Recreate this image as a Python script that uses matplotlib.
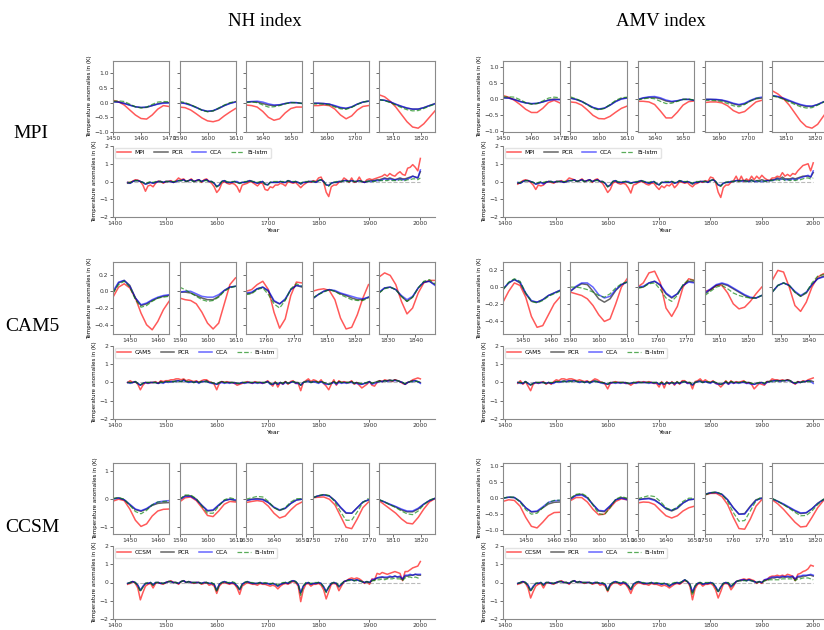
import matplotlib
matplotlib.use("Agg")
import matplotlib.pyplot as plt
from matplotlib.ticker import MultipleLocator
import numpy as np

# ---------------- zoom-window data (every 2 years, 20-year windows) ----------------
NH_MPI_WIN = [1450, 1590, 1634, 1685, 1805]
NH_MPI_MODEL = [[0.08, 0.03, -0.08, -0.25, -0.42, -0.54, -0.56, -0.42, -0.22, -0.1, -0.13],
                [-0.15, -0.17, -0.25, -0.38, -0.52, -0.62, -0.65, -0.6, -0.45, -0.32, -0.2],
                [-0.08, -0.1, -0.15, -0.3, -0.5, -0.6, -0.55, -0.35, -0.2, -0.15, -0.15],
                [-0.1, -0.1, -0.08, -0.1, -0.22, -0.42, -0.55, -0.45, -0.25, -0.13, -0.1],
                [0.27, 0.2, 0.05, -0.15, -0.4, -0.65, -0.83, -0.87, -0.72, -0.5, -0.28]]
NH_MPI_PCR = [[0.03, 0.02, -0.02, -0.08, -0.14, -0.17, -0.16, -0.1, -0.04, 0.0, 0.0],
              [0.0, -0.02, -0.08, -0.16, -0.25, -0.3, -0.28, -0.2, -0.1, -0.02, 0.03],
              [0.02, 0.03, 0.02, -0.03, -0.08, -0.1, -0.08, -0.03, 0.0, 0.0, -0.02],
              [-0.02, -0.02, -0.03, -0.05, -0.12, -0.18, -0.2, -0.15, -0.05, 0.02, 0.05],
              [0.1, 0.08, 0.02, -0.06, -0.13, -0.19, -0.22, -0.22, -0.17, -0.1, -0.03]]
NH_MPI_CCA = [[0.03, 0.02, -0.03, -0.09, -0.14, -0.16, -0.15, -0.1, -0.05, -0.02, -0.01],
              [0.0, -0.03, -0.09, -0.17, -0.25, -0.29, -0.27, -0.19, -0.1, -0.03, 0.02],
              [0.02, 0.04, 0.05, 0.02, -0.04, -0.08, -0.07, -0.03, 0.01, 0.0, -0.03],
              [-0.02, -0.02, -0.03, -0.05, -0.1, -0.16, -0.19, -0.14, -0.05, 0.02, 0.05],
              [0.1, 0.08, 0.03, -0.05, -0.12, -0.18, -0.22, -0.22, -0.17, -0.1, -0.04]]
NH_MPI_LSTM = [[0.05, 0.06, 0.04, -0.05, -0.14, -0.18, -0.15, -0.06, 0.02, 0.04, 0.03],
               [0.05, 0.0, -0.07, -0.16, -0.26, -0.31, -0.28, -0.18, -0.08, 0.0, 0.04],
               [0.0, 0.03, 0.0, -0.08, -0.15, -0.14, -0.1, -0.04, 0.0, 0.0, -0.03],
               [-0.05, -0.04, -0.05, -0.08, -0.15, -0.21, -0.23, -0.16, -0.06, 0.02, 0.06],
               [0.1, 0.07, 0.0, -0.08, -0.17, -0.24, -0.28, -0.27, -0.2, -0.12, -0.05]]

NH_CAM5_WIN = [1444, 1590, 1753, 1805, 1827]
NH_CAM5_MODEL = [[-0.07, 0.05, 0.09, 0.04, -0.08, -0.26, -0.4, -0.46, -0.36, -0.22, -0.12],
                 [-0.08, -0.1, -0.11, -0.15, -0.25, -0.38, -0.45, -0.38, -0.15, 0.08, 0.16],
                 [0.0, 0.02, 0.08, 0.12, 0.02, -0.25, -0.44, -0.33, -0.05, 0.11, 0.1],
                 [0.0, 0.02, 0.03, 0.01, -0.1, -0.32, -0.45, -0.43, -0.28, -0.08, 0.08],
                 [0.17, 0.22, 0.19, 0.08, -0.12, -0.27, -0.2, -0.02, 0.1, 0.13, 0.13]]
NH_CAM5_PCR = [[-0.02, 0.1, 0.13, 0.07, -0.08, -0.17, -0.15, -0.11, -0.08, -0.06, -0.05],
               [-0.01, -0.01, -0.02, -0.05, -0.08, -0.1, -0.1, -0.06, 0.01, 0.05, 0.06],
               [-0.03, -0.02, 0.03, 0.05, 0.0, -0.12, -0.15, -0.1, 0.02, 0.07, 0.05],
               [-0.09, -0.04, 0.0, 0.02, 0.0, -0.03, -0.05, -0.08, -0.1, -0.1, -0.07],
               [-0.02, 0.04, 0.05, 0.02, -0.06, -0.12, -0.07, 0.04, 0.11, 0.12, 0.08]]
NH_CAM5_CCA = [[0.0, 0.11, 0.13, 0.06, -0.08, -0.16, -0.14, -0.1, -0.07, -0.05, -0.04],
               [-0.01, 0.0, 0.0, -0.03, -0.06, -0.07, -0.07, -0.04, 0.01, 0.05, 0.06],
               [-0.02, -0.01, 0.03, 0.05, 0.01, -0.11, -0.15, -0.09, 0.02, 0.07, 0.06],
               [-0.09, -0.04, 0.0, 0.02, 0.01, -0.02, -0.04, -0.06, -0.08, -0.09, -0.07],
               [-0.01, 0.04, 0.05, 0.02, -0.05, -0.1, -0.06, 0.04, 0.11, 0.12, 0.07]]
NH_CAM5_LSTM = [[-0.02, 0.08, 0.12, 0.05, -0.1, -0.19, -0.17, -0.12, -0.08, -0.07, -0.06],
                [0.05, 0.02, -0.02, -0.06, -0.1, -0.12, -0.11, -0.07, 0.0, 0.04, 0.06],
                [-0.04, -0.03, 0.02, 0.04, -0.04, -0.15, -0.2, -0.11, 0.03, 0.09, 0.06],
                [-0.08, -0.04, -0.01, 0.02, 0.0, -0.04, -0.07, -0.1, -0.11, -0.11, -0.08],
                [-0.02, 0.03, 0.05, 0.02, -0.06, -0.12, -0.07, 0.04, 0.12, 0.14, 0.09]]

NH_CCSM_WIN = [1444, 1590, 1630, 1750, 1805]
NH_CCSM_MODEL = [[-0.07, 0.0, -0.05, -0.35, -0.75, -0.97, -0.88, -0.6, -0.42, -0.36, -0.35],
                 [-0.1, 0.05, 0.08, -0.05, -0.3, -0.58, -0.62, -0.42, -0.18, -0.08, -0.1],
                 [-0.12, -0.08, -0.05, -0.08, -0.25, -0.5, -0.67, -0.6, -0.38, -0.2, -0.1],
                 [0.05, 0.07, 0.08, 0.0, -0.2, -0.6, -1.0, -1.05, -0.7, -0.3, -0.1],
                 [-0.05, -0.2, -0.35, -0.5, -0.7, -0.85, -0.88, -0.65, -0.35, -0.1, 0.02]]
NH_CCSM_PCR = [[0.02, 0.05, -0.02, -0.2, -0.37, -0.43, -0.35, -0.22, -0.15, -0.13, -0.12],
               [-0.02, 0.12, 0.12, 0.0, -0.22, -0.42, -0.4, -0.22, -0.05, 0.0, -0.05],
               [-0.05, 0.0, 0.02, 0.0, -0.12, -0.3, -0.4, -0.33, -0.15, -0.03, 0.0],
               [0.05, 0.12, 0.16, 0.12, -0.05, -0.3, -0.5, -0.5, -0.3, -0.1, -0.03],
               [-0.02, -0.1, -0.2, -0.28, -0.38, -0.45, -0.45, -0.35, -0.18, -0.05, 0.03]]
NH_CCSM_CCA = [[0.0, 0.04, -0.02, -0.18, -0.35, -0.41, -0.33, -0.2, -0.1, -0.07, -0.05],
               [-0.02, 0.1, 0.1, -0.02, -0.22, -0.4, -0.38, -0.2, -0.05, 0.0, -0.02],
               [-0.05, -0.01, 0.0, -0.02, -0.12, -0.28, -0.38, -0.32, -0.15, -0.03, 0.0],
               [0.05, 0.12, 0.15, 0.11, -0.05, -0.28, -0.48, -0.5, -0.3, -0.1, -0.02],
               [-0.02, -0.1, -0.18, -0.26, -0.35, -0.42, -0.42, -0.32, -0.17, -0.05, 0.03]]
NH_CCSM_LSTM = [[0.02, 0.06, 0.0, -0.22, -0.44, -0.52, -0.4, -0.2, -0.1, -0.08, -0.07],
                [0.0, 0.15, 0.15, 0.02, -0.25, -0.5, -0.5, -0.25, -0.02, 0.05, 0.0],
                [0.0, 0.05, 0.1, 0.08, -0.08, -0.3, -0.4, -0.3, -0.1, 0.02, 0.02],
                [0.05, 0.12, 0.17, 0.13, -0.1, -0.45, -0.75, -0.75, -0.45, -0.12, 0.03],
                [-0.01, -0.1, -0.2, -0.3, -0.42, -0.52, -0.55, -0.42, -0.2, -0.03, 0.04]]

AMV_MPI_WIN = [1450, 1590, 1634, 1685, 1805]
AMV_MPI_MODEL = [[0.1, 0.05, -0.05, -0.18, -0.33, -0.43, -0.43, -0.3, -0.12, -0.05, -0.13],
                 [-0.1, -0.12, -0.2, -0.35, -0.52, -0.62, -0.63, -0.55, -0.42, -0.3, -0.23],
                 [-0.08, -0.08, -0.1, -0.18, -0.38, -0.6, -0.6, -0.42, -0.2, -0.09, -0.07],
                 [-0.12, -0.1, -0.1, -0.13, -0.22, -0.37, -0.45, -0.4, -0.25, -0.1, -0.05],
                 [0.25, 0.15, 0.0, -0.2, -0.45, -0.7, -0.87, -0.92, -0.8, -0.55, -0.3]]
AMV_MPI_PCR = [[0.03, 0.02, -0.02, -0.08, -0.13, -0.16, -0.15, -0.1, -0.04, -0.01, -0.02],
               [0.02, -0.02, -0.08, -0.18, -0.28, -0.33, -0.3, -0.2, -0.08, 0.0, 0.03],
               [-0.03, 0.02, 0.04, 0.04, 0.0, -0.07, -0.1, -0.07, -0.02, -0.02, -0.05],
               [-0.02, -0.02, -0.03, -0.05, -0.1, -0.16, -0.2, -0.16, -0.07, 0.0, 0.02],
               [0.1, 0.06, 0.0, -0.07, -0.14, -0.2, -0.24, -0.24, -0.18, -0.1, -0.03]]
AMV_MPI_CCA = [[0.03, 0.02, -0.03, -0.09, -0.13, -0.15, -0.14, -0.1, -0.05, -0.03, -0.03],
               [0.02, -0.02, -0.09, -0.18, -0.27, -0.32, -0.29, -0.2, -0.09, -0.01, 0.02],
               [-0.02, 0.03, 0.06, 0.07, 0.03, -0.04, -0.08, -0.06, -0.02, -0.02, -0.05],
               [-0.02, -0.02, -0.02, -0.04, -0.08, -0.14, -0.18, -0.14, -0.05, 0.02, 0.05],
               [0.1, 0.07, 0.02, -0.05, -0.12, -0.18, -0.22, -0.23, -0.18, -0.1, -0.03]]
AMV_MPI_LSTM = [[0.06, 0.06, 0.05, -0.03, -0.12, -0.17, -0.15, -0.07, 0.02, 0.05, 0.03],
                [0.06, 0.0, -0.08, -0.19, -0.3, -0.35, -0.3, -0.18, -0.05, 0.03, 0.05],
                [-0.04, 0.0, 0.02, 0.0, -0.08, -0.15, -0.14, -0.08, -0.02, -0.01, -0.04],
                [-0.05, -0.05, -0.06, -0.09, -0.15, -0.22, -0.25, -0.18, -0.07, 0.01, 0.04],
                [0.08, 0.05, -0.02, -0.1, -0.18, -0.25, -0.29, -0.28, -0.2, -0.11, -0.04]]

AMV_CAM5_WIN = [1443, 1590, 1753, 1805, 1827]
AMV_CAM5_MODEL = [[-0.18, -0.05, 0.05, 0.02, -0.12, -0.35, -0.48, -0.46, -0.33, -0.2, -0.12],
                  [-0.06, -0.08, -0.1, -0.14, -0.22, -0.33, -0.41, -0.38, -0.2, 0.0, 0.1],
                  [0.0, 0.05, 0.17, 0.19, 0.05, -0.25, -0.35, -0.23, 0.0, 0.1, 0.08],
                  [-0.05, -0.03, 0.02, 0.02, -0.07, -0.2, -0.26, -0.24, -0.17, -0.08, 0.0],
                  [0.08, 0.2, 0.18, 0.0, -0.22, -0.29, -0.18, 0.0, 0.12, 0.16, 0.17]]
AMV_CAM5_PCR = [[-0.03, 0.05, 0.09, 0.05, -0.08, -0.17, -0.18, -0.15, -0.1, -0.07, -0.04],
                [-0.05, 0.0, 0.04, 0.03, -0.05, -0.14, -0.18, -0.14, -0.04, 0.03, 0.06],
                [-0.01, 0.0, 0.05, 0.07, 0.02, -0.08, -0.13, -0.08, 0.02, 0.07, 0.06],
                [-0.08, -0.03, 0.02, 0.04, 0.02, -0.02, -0.06, -0.1, -0.13, -0.13, -0.1],
                [-0.06, 0.02, 0.05, 0.02, -0.06, -0.11, -0.07, 0.03, 0.1, 0.13, 0.12]]
AMV_CAM5_CCA = [[-0.02, 0.05, 0.09, 0.06, -0.07, -0.16, -0.18, -0.15, -0.1, -0.07, -0.04],
                [-0.05, 0.01, 0.05, 0.05, 0.0, -0.09, -0.13, -0.11, -0.03, 0.03, 0.06],
                [0.0, 0.01, 0.05, 0.07, 0.03, -0.07, -0.12, -0.08, 0.02, 0.06, 0.05],
                [-0.07, -0.02, 0.03, 0.05, 0.03, -0.01, -0.05, -0.09, -0.12, -0.13, -0.1],
                [-0.06, 0.02, 0.05, 0.02, -0.05, -0.1, -0.06, 0.03, 0.1, 0.12, 0.11]]
AMV_CAM5_LSTM = [[-0.03, 0.06, 0.1, 0.07, -0.07, -0.17, -0.19, -0.16, -0.11, -0.08, -0.05],
                 [0.0, 0.0, -0.01, -0.03, -0.06, -0.1, -0.12, -0.08, -0.01, 0.04, 0.06],
                 [-0.01, 0.0, 0.04, 0.05, -0.03, -0.13, -0.17, -0.1, 0.03, 0.09, 0.08],
                 [-0.1, -0.05, 0.0, 0.02, -0.02, -0.07, -0.1, -0.12, -0.13, -0.13, -0.1],
                 [-0.06, 0.02, 0.05, 0.02, -0.06, -0.11, -0.06, 0.05, 0.13, 0.15, 0.13]]

AMV_CCSM_WIN = [1442, 1590, 1630, 1750, 1805]
AMV_CCSM_MODEL = [[-0.1, -0.05, -0.07, -0.25, -0.6, -0.88, -0.93, -0.75, -0.55, -0.45, -0.44],
                  [-0.08, 0.02, 0.02, -0.12, -0.35, -0.52, -0.5, -0.3, -0.1, -0.02, -0.05],
                  [-0.15, -0.12, -0.13, -0.2, -0.38, -0.55, -0.62, -0.55, -0.4, -0.3, -0.25],
                  [0.1, 0.15, 0.15, 0.05, -0.2, -0.6, -0.95, -0.97, -0.65, -0.25, -0.05],
                  [-0.05, -0.18, -0.35, -0.55, -0.75, -0.9, -0.88, -0.6, -0.3, -0.08, 0.02]]
AMV_CCSM_PCR = [[0.0, 0.03, 0.02, -0.1, -0.3, -0.43, -0.42, -0.3, -0.18, -0.13, -0.12],
                [-0.03, 0.1, 0.12, 0.02, -0.2, -0.4, -0.42, -0.25, -0.05, 0.02, -0.02],
                [-0.05, -0.02, 0.0, -0.05, -0.18, -0.33, -0.4, -0.32, -0.15, -0.05, -0.03],
                [0.12, 0.17, 0.18, 0.12, -0.05, -0.3, -0.5, -0.48, -0.25, -0.05, 0.0],
                [-0.02, -0.1, -0.2, -0.3, -0.4, -0.48, -0.46, -0.33, -0.16, -0.04, 0.02]]
AMV_CCSM_CCA = [[0.0, 0.03, 0.02, -0.1, -0.3, -0.42, -0.4, -0.27, -0.13, -0.08, -0.07],
                [-0.03, 0.08, 0.1, 0.0, -0.2, -0.38, -0.4, -0.24, -0.05, 0.0, -0.05],
                [-0.05, -0.03, -0.02, -0.07, -0.18, -0.32, -0.38, -0.3, -0.15, -0.05, -0.03],
                [0.12, 0.17, 0.18, 0.12, -0.05, -0.3, -0.5, -0.5, -0.27, -0.07, 0.0],
                [-0.02, -0.1, -0.18, -0.28, -0.38, -0.46, -0.45, -0.33, -0.17, -0.05, 0.02]]
AMV_CCSM_LSTM = [[0.0, 0.04, 0.03, -0.12, -0.36, -0.5, -0.47, -0.3, -0.13, -0.07, -0.06],
                 [0.0, 0.12, 0.15, 0.05, -0.22, -0.48, -0.52, -0.3, -0.03, 0.05, 0.0],
                 [-0.02, 0.03, 0.08, 0.05, -0.1, -0.3, -0.38, -0.28, -0.1, 0.0, 0.0],
                 [0.1, 0.17, 0.2, 0.12, -0.1, -0.45, -0.72, -0.7, -0.4, -0.08, 0.05],
                 [-0.01, -0.1, -0.2, -0.32, -0.44, -0.55, -0.54, -0.4, -0.2, -0.04, 0.03]]

# ---------------- full reconstructions, 1425-2000 every 5 years ----------------
YEARS = np.arange(1425, 2001, 5)

NH_MPI_MODEL_LONG = [-0.05, -0.05, 0.02, 0.1, 0.08, 0.0, -0.2, -0.55, -0.25, -0.2,
                     -0.3, -0.1, 0.02, 0.0, -0.1, 0.0, 0.0, 0.05, -0.05, 0.05,
                     0.2, 0.1, 0.15, 0.0, 0.05, 0.15, 0.0, 0.05, 0.1, -0.05,
                     0.1, 0.15, 0.0, -0.1, -0.3, -0.62, -0.45, -0.1, 0.0, -0.1,
                     -0.15, -0.1, -0.15, -0.3, -0.6, -0.2, -0.15, -0.1, 0.0, -0.05,
                     -0.15, -0.25, -0.1, -0.1, -0.45, -0.5, -0.3, -0.35, -0.2, -0.2,
                     -0.1, -0.15, -0.25, 0.0, -0.05, -0.1, -0.05, -0.2, -0.35, -0.2,
                     -0.1, 0.0, -0.05, 0.05, 0.0, 0.2, 0.25, -0.05, -0.6, -0.85,
                     -0.3, -0.2, -0.2, -0.05, 0.0, 0.2, 0.1, -0.05, 0.2, -0.05,
                     0.0, 0.25, 0.0, -0.05, 0.1, 0.15, 0.1, 0.15, 0.2, 0.25,
                     0.3, 0.4, 0.3, 0.45, 0.35, 0.3, 0.45, 0.55, 0.4, 0.35,
                     0.75, 0.8, 0.95, 0.8, 0.6, 1.3]
NH_MPI_PCR_LONG = [-0.1, -0.1, 0.0, 0.05, 0.05, 0.0, -0.05, -0.15, -0.1, -0.05,
                   -0.1, -0.05, 0.0, 0.0, -0.05, 0.0, 0.0, 0.0, -0.05, 0.0,
                   0.05, 0.05, 0.1, 0.0, 0.05, 0.1, 0.0, 0.05, 0.1, 0.0,
                   0.05, 0.1, 0.0, 0.0, -0.1, -0.3, -0.2, 0.0, 0.05, -0.05,
                   -0.05, -0.05, 0.0, -0.05, -0.1, -0.05, -0.05, 0.0, 0.05, 0.0,
                   -0.05, -0.1, -0.05, 0.0, -0.15, -0.2, -0.05, -0.05, -0.05, -0.05,
                   0.0, -0.05, -0.05, 0.05, 0.0, -0.05, 0.0, -0.05, -0.15, -0.05,
                   -0.05, 0.0, 0.0, 0.0, -0.05, 0.05, 0.1, 0.0, -0.2, -0.22,
                   -0.1, -0.05, -0.05, 0.0, 0.0, 0.05, 0.05, 0.0, 0.05, 0.0,
                   0.0, 0.05, 0.0, -0.05, 0.0, 0.05, 0.05, 0.05, 0.1, 0.1,
                   0.15, 0.2, 0.15, 0.2, 0.15, 0.1, 0.15, 0.2, 0.15, 0.15,
                   0.2, 0.25, 0.3, 0.25, 0.2, 0.55]
NH_MPI_CCA_LONG = [-0.05, -0.1, 0.0, 0.05, 0.05, 0.0, -0.05, -0.15, -0.1, -0.05,
                   -0.1, -0.05, 0.0, 0.0, -0.05, 0.0, 0.0, 0.0, -0.05, 0.0,
                   0.05, 0.05, 0.1, 0.0, 0.05, 0.1, 0.0, 0.05, 0.1, 0.0,
                   0.05, 0.1, 0.0, 0.0, -0.1, -0.28, -0.2, 0.0, 0.05, -0.05,
                   -0.05, -0.05, 0.0, 0.0, -0.08, -0.05, -0.05, 0.0, 0.05, 0.0,
                   -0.05, -0.1, -0.05, 0.0, -0.15, -0.18, -0.05, -0.05, -0.05, -0.05,
                   0.0, -0.05, -0.05, 0.05, 0.0, -0.05, 0.0, -0.05, -0.12, -0.05,
                   -0.05, 0.0, 0.0, 0.0, -0.05, 0.05, 0.1, 0.0, -0.18, -0.22,
                   -0.1, -0.05, -0.05, 0.0, 0.0, 0.05, 0.05, 0.0, 0.05, 0.0,
                   0.0, 0.05, 0.0, -0.05, 0.0, 0.0, 0.0, 0.05, 0.05, 0.05,
                   0.1, 0.15, 0.1, 0.15, 0.1, 0.1, 0.1, 0.15, 0.1, 0.1,
                   0.15, 0.2, 0.3, 0.25, 0.2, 0.65]
NH_MPI_LSTM_LONG = [-0.05, -0.05, 0.0, 0.05, 0.05, 0.0, -0.05, -0.15, -0.05, 0.0,
                    -0.05, 0.0, 0.0, 0.0, -0.05, 0.0, 0.0, 0.0, 0.0, 0.0,
                    0.05, 0.05, 0.05, 0.0, 0.05, 0.05, 0.0, 0.0, 0.05, 0.0,
                    0.05, 0.05, 0.0, 0.0, -0.1, -0.3, -0.18, 0.0, 0.05, 0.0,
                    -0.05, 0.0, 0.0, -0.05, -0.12, -0.05, 0.0, 0.0, 0.05, 0.0,
                    0.0, -0.05, 0.0, 0.0, -0.15, -0.22, -0.05, 0.0, 0.0, 0.0,
                    0.0, 0.0, -0.05, 0.05, 0.0, 0.0, 0.0, -0.05, -0.1, 0.0,
                    0.0, 0.0, 0.0, 0.0, 0.0, 0.05, 0.1, 0.0, -0.2, -0.27,
                    -0.1, -0.05, 0.0, 0.0, 0.0, 0.05, 0.0, 0.0, 0.05, 0.0,
                    0.0, 0.05, 0.0, 0.0, 0.0, 0.0, 0.0, 0.0, 0.05, 0.05,
                    0.05, 0.05, 0.05, 0.1, 0.05, 0.05, 0.05, 0.1, 0.05, 0.05,
                    0.1, 0.1, 0.15, 0.15, 0.1, 0.2]

NH_CAM5_MODEL_LONG = [0.0, 0.1, 0.0, 0.05, -0.1, -0.4, -0.15, 0.0, -0.05, 0.0,
                      0.0, 0.05, -0.05, 0.1, 0.05, 0.1, 0.1, 0.15, 0.15, 0.2,
                      0.2, 0.15, 0.2, 0.1, 0.15, 0.1, 0.05, 0.1, 0.0, 0.1,
                      0.15, 0.15, 0.05, 0.0, -0.1, -0.4, -0.05, 0.05, 0.0, 0.05,
                      0.0, 0.0, -0.05, -0.15, -0.1, -0.05, 0.0, 0.05, 0.0, -0.05,
                      0.05, 0.0, 0.0, -0.05, 0.0, 0.1, -0.05, -0.2, 0.05, -0.25,
                      0.0, -0.1, 0.05, -0.1, 0.05, 0.1, -0.05, -0.05, -0.45, 0.0,
                      0.1, 0.2, 0.05, 0.15, 0.1, 0.0, 0.15, -0.05, -0.2, -0.4,
                      -0.1, 0.15, -0.15, 0.1, 0.0, 0.05, 0.0, 0.0, 0.1, -0.1,
                      0.0, -0.15, -0.3, -0.2, -0.1, 0.05, -0.15, -0.2, 0.0, 0.1,
                      0.05, 0.15, 0.1, 0.1, 0.05, 0.15, 0.1, 0.05, -0.05, -0.1,
                      0.0, 0.05, 0.15, 0.2, 0.25, 0.2]
NH_CAM5_PCR_LONG = [0.0, 0.0, 0.0, 0.05, -0.05, -0.15, -0.05, 0.0, 0.0, 0.0,
                    0.0, 0.0, -0.05, 0.05, 0.0, 0.05, 0.05, 0.05, 0.05, 0.1,
                    0.1, 0.05, 0.15, 0.05, 0.05, 0.05, 0.0, 0.05, 0.0, 0.05,
                    0.05, 0.1, 0.0, 0.0, -0.05, -0.1, 0.0, 0.05, 0.0, 0.0,
                    0.0, 0.0, 0.0, -0.05, -0.05, 0.0, 0.0, 0.0, 0.0, 0.0,
                    0.0, 0.0, 0.0, 0.0, 0.0, 0.05, -0.05, -0.1, 0.0, -0.1,
                    0.0, -0.05, 0.05, -0.05, 0.0, 0.05, 0.0, 0.0, -0.15, 0.0,
                    0.05, 0.1, 0.0, 0.05, 0.05, 0.0, 0.05, 0.0, -0.05, -0.1,
                    -0.05, 0.05, -0.05, 0.05, 0.0, 0.0, 0.0, 0.0, 0.05, -0.05,
                    0.0, -0.05, -0.1, -0.05, 0.0, 0.05, -0.05, 0.0, 0.05, 0.1,
                    0.05, 0.1, 0.1, 0.15, 0.1, 0.15, 0.1, 0.05, 0.0, -0.1,
                    0.0, 0.05, 0.1, 0.1, 0.05, 0.0]
NH_CAM5_CCA_LONG = [0.0, -0.05, 0.0, 0.05, -0.05, -0.15, -0.05, 0.0, -0.05, 0.0,
                    0.0, 0.0, -0.05, 0.0, -0.05, 0.05, 0.0, 0.05, 0.05, 0.05,
                    0.1, 0.05, 0.1, 0.05, 0.0, 0.05, 0.0, 0.05, -0.05, 0.05,
                    0.05, 0.05, 0.0, -0.05, -0.05, -0.1, -0.05, 0.0, -0.05, 0.0,
                    -0.05, 0.0, -0.05, -0.05, -0.05, 0.0, -0.05, 0.0, 0.0, -0.05,
                    0.0, -0.05, 0.0, -0.05, 0.0, 0.05, -0.1, -0.1, 0.0, -0.1,
                    0.0, -0.1, 0.0, -0.05, 0.0, 0.05, -0.05, -0.05, -0.15, 0.0,
                    0.05, 0.05, 0.0, 0.05, 0.0, -0.05, 0.05, -0.05, -0.1, -0.1,
                    -0.05, 0.0, -0.1, 0.0, -0.05, 0.0, -0.05, 0.0, 0.0, -0.05,
                    -0.05, -0.1, -0.1, -0.05, -0.05, 0.05, -0.1, -0.05, 0.0, 0.05,
                    0.05, 0.1, 0.05, 0.1, 0.1, 0.1, 0.1, 0.05, 0.0, -0.1,
                    0.0, 0.05, 0.05, 0.1, 0.05, -0.05]
NH_CAM5_LSTM_LONG = [0.0, 0.0, 0.0, 0.05, -0.05, -0.12, -0.05, 0.0, 0.0, 0.0,
                     0.0, 0.0, -0.05, 0.0, 0.0, 0.05, 0.05, 0.05, 0.05, 0.05,
                     0.05, 0.05, 0.1, 0.05, 0.05, 0.05, 0.0, 0.05, 0.0, 0.05,
                     0.05, 0.05, 0.0, 0.0, -0.05, -0.1, 0.0, 0.05, 0.0, 0.0,
                     0.0, 0.0, 0.0, -0.05, -0.05, 0.0, 0.0, 0.0, 0.0, 0.0,
                     0.0, 0.0, 0.0, 0.0, 0.0, 0.05, -0.05, -0.1, 0.0, -0.05,
                     0.0, -0.05, 0.05, -0.05, 0.0, 0.05, 0.0, 0.0, -0.15, 0.0,
                     0.05, 0.05, 0.0, 0.05, 0.05, 0.0, 0.05, 0.0, -0.05, -0.1,
                     -0.05, 0.05, -0.05, 0.05, 0.0, 0.0, 0.0, 0.0, 0.05, -0.05,
                     0.0, -0.05, -0.05, -0.05, 0.0, 0.05, -0.05, 0.0, 0.05, 0.05,
                     0.05, 0.1, 0.05, 0.1, 0.1, 0.1, 0.1, 0.05, 0.0, -0.05,
                     0.0, 0.05, 0.05, 0.05, 0.05, 0.05]

NH_CCSM_MODEL_LONG = [-0.1, -0.05, 0.05, -0.05, -0.3, -0.95, -0.55, -0.2, -0.1, -0.05,
                      -0.3, -0.05, 0.0, -0.05, -0.1, 0.0, 0.05, 0.1, 0.0, 0.0,
                      -0.1, 0.05, 0.1, 0.0, 0.05, 0.0, -0.05, 0.0, 0.0, -0.1,
                      -0.05, 0.0, -0.15, -0.1, -0.2, -0.6, -0.2, -0.05, 0.0, -0.05,
                      -0.1, -0.05, -0.1, -0.3, -0.65, -0.2, -0.1, 0.0, -0.05, -0.1,
                      -0.1, -0.15, -0.05, -0.1, -0.1, -0.15, -0.2, -0.15, -0.2, -0.35,
                      -0.2, -0.1, -0.05, -0.1, 0.0, 0.05, 0.0, -0.2, -1.05, -0.4,
                      -0.1, -0.05, -0.2, -0.1, -0.1, -0.05, -0.15, -0.4, -0.9, -0.5,
                      -0.1, -0.05, -0.1, -0.45, -0.2, 0.05, 0.1, 0.2, 0.25, 0.2,
                      0.25, 0.2, 0.1, -0.05, 0.05, -0.1, 0.2, 0.15, 0.5, 0.45,
                      0.55, 0.5, 0.45, 0.5, 0.55, 0.6, 0.55, 0.5, 0.1, 0.6,
                      0.6, 0.7, 0.8, 0.85, 0.9, 1.15]
NH_CCSM_PCR_LONG = [-0.05, 0.0, 0.05, 0.0, -0.15, -0.45, -0.25, -0.05, -0.05, 0.0,
                    -0.15, 0.0, 0.0, -0.05, -0.05, 0.0, 0.05, 0.05, 0.0, 0.0,
                    -0.05, 0.05, 0.1, 0.0, 0.05, 0.0, 0.0, 0.0, 0.0, -0.05,
                    0.0, 0.0, -0.05, -0.05, -0.1, -0.45, -0.1, 0.0, 0.05, 0.0,
                    -0.05, 0.0, -0.05, -0.2, -0.4, -0.1, 0.0, 0.05, 0.0, -0.05,
                    -0.05, -0.05, 0.0, -0.05, -0.05, -0.05, -0.1, -0.05, -0.1, -0.2,
                    -0.1, -0.05, 0.0, -0.05, 0.05, 0.1, 0.05, -0.1, -0.6, -0.2,
                    -0.05, 0.0, -0.1, -0.05, -0.05, 0.0, -0.05, -0.25, -0.5, -0.25,
                    -0.05, 0.0, -0.05, -0.25, -0.1, 0.05, 0.1, 0.15, 0.15, 0.1,
                    0.15, 0.1, 0.05, 0.0, 0.05, 0.0, 0.1, 0.15, 0.25, 0.25,
                    0.3, 0.25, 0.25, 0.3, 0.3, 0.35, 0.3, 0.3, 0.15, 0.35,
                    0.35, 0.4, 0.4, 0.45, 0.4, 0.4]
NH_CCSM_CCA_LONG = [-0.05, 0.0, 0.05, 0.0, -0.15, -0.42, -0.2, -0.05, -0.05, 0.0,
                    -0.12, 0.0, 0.0, -0.05, -0.05, 0.0, 0.05, 0.05, 0.0, 0.0,
                    -0.05, 0.05, 0.1, 0.0, 0.05, 0.0, 0.0, 0.0, 0.0, -0.05,
                    0.0, 0.0, -0.05, -0.05, -0.1, -0.42, -0.1, 0.0, 0.05, 0.0,
                    -0.05, 0.0, -0.05, -0.18, -0.38, -0.1, 0.0, 0.05, 0.0, -0.05,
                    -0.05, -0.05, 0.0, -0.05, -0.05, -0.05, -0.1, -0.05, -0.1, -0.2,
                    -0.1, -0.05, 0.0, -0.05, 0.05, 0.1, 0.05, -0.1, -0.55, -0.2,
                    -0.05, 0.0, -0.1, -0.05, -0.05, 0.0, -0.05, -0.22, -0.5, -0.25,
                    -0.05, 0.0, -0.05, -0.2, -0.1, 0.05, 0.1, 0.15, 0.15, 0.1,
                    0.15, 0.1, 0.05, 0.0, 0.05, 0.0, 0.15, 0.2, 0.25, 0.3,
                    0.3, 0.3, 0.3, 0.35, 0.3, 0.35, 0.3, 0.35, 0.2, 0.4,
                    0.4, 0.45, 0.4, 0.45, 0.45, 0.45]
NH_CCSM_LSTM_LONG = [-0.05, 0.0, 0.05, 0.0, -0.2, -0.5, -0.25, -0.05, 0.0, 0.0,
                     -0.15, 0.0, 0.0, 0.0, -0.05, 0.0, 0.05, 0.05, 0.0, 0.0,
                     -0.05, 0.05, 0.1, 0.0, 0.05, 0.0, 0.0, 0.0, 0.0, -0.05,
                     0.0, 0.0, -0.05, 0.0, -0.1, -0.5, -0.1, 0.0, 0.05, 0.0,
                     0.0, 0.05, 0.0, -0.15, -0.4, -0.1, 0.0, 0.05, 0.0, 0.0,
                     -0.05, -0.05, 0.0, -0.05, 0.0, -0.05, -0.05, -0.05, -0.05, -0.15,
                     -0.05, 0.0, 0.0, 0.0, 0.05, 0.1, 0.05, -0.1, -0.7, -0.2,
                     0.0, 0.0, -0.05, 0.0, 0.0, 0.0, -0.05, -0.25, -0.55, -0.25,
                     -0.05, 0.0, 0.0, -0.2, -0.05, 0.05, 0.1, 0.1, 0.15, 0.1,
                     0.1, 0.1, 0.05, 0.0, 0.05, 0.0, 0.1, 0.1, 0.15, 0.15,
                     0.2, 0.15, 0.2, 0.2, 0.2, 0.25, 0.2, 0.2, 0.1, 0.25,
                     0.3, 0.3, 0.25, 0.3, 0.25, 0.2]

AMV_MPI_MODEL_LONG = [-0.15, -0.05, 0.05, 0.1, 0.05, -0.05, -0.2, -0.45, -0.2, -0.25,
                      -0.2, -0.05, 0.0, -0.05, -0.1, 0.0, 0.0, 0.05, -0.05, 0.05,
                      0.2, 0.15, 0.1, 0.0, 0.05, 0.15, 0.0, 0.05, 0.1, -0.05,
                      0.1, 0.15, 0.0, -0.1, -0.35, -0.62, -0.45, -0.1, 0.0, -0.1,
                      -0.15, -0.1, -0.15, -0.35, -0.65, -0.2, -0.15, -0.05, 0.0, -0.05,
                      -0.15, -0.2, -0.1, -0.1, -0.3, -0.45, -0.25, -0.35, -0.2, -0.25,
                      -0.1, -0.35, -0.2, 0.0, -0.05, -0.1, -0.05, -0.2, -0.3, -0.15,
                      -0.1, 0.0, -0.05, 0.05, 0.0, 0.25, 0.2, -0.05, -0.6, -0.9,
                      -0.35, -0.2, -0.2, -0.05, 0.05, 0.3, 0.0, 0.3, 0.0, 0.15,
                      0.05, 0.3, 0.1, 0.3, 0.15, 0.35, 0.2, 0.1, 0.05, 0.2,
                      0.2, 0.3, 0.25, 0.5, 0.3, 0.4, 0.3, 0.45, 0.4, 0.6,
                      0.75, 0.9, 0.95, 1.0, 0.6, 1.05]
AMV_MPI_PCR_LONG = [-0.1, -0.1, 0.0, 0.05, 0.05, 0.0, -0.05, -0.15, -0.1, -0.05,
                    -0.1, -0.05, 0.0, 0.0, -0.05, 0.0, 0.0, 0.0, -0.05, 0.0,
                    0.05, 0.05, 0.1, 0.0, 0.05, 0.1, 0.0, 0.05, 0.1, 0.0,
                    0.05, 0.1, 0.0, 0.0, -0.1, -0.3, -0.2, 0.0, 0.05, -0.05,
                    -0.05, -0.05, 0.0, -0.05, -0.1, -0.05, -0.05, 0.0, 0.05, 0.0,
                    -0.05, -0.1, -0.05, 0.0, -0.12, -0.2, -0.05, -0.05, -0.05, -0.05,
                    0.0, -0.1, -0.05, 0.05, 0.0, -0.05, 0.0, -0.05, -0.15, -0.05,
                    -0.05, 0.0, 0.0, 0.0, -0.05, 0.05, 0.1, 0.0, -0.2, -0.25,
                    -0.1, -0.05, -0.05, 0.0, 0.0, 0.05, 0.05, 0.05, 0.05, 0.05,
                    0.0, 0.1, 0.0, 0.05, 0.05, 0.1, 0.05, 0.05, 0.05, 0.1,
                    0.1, 0.2, 0.15, 0.25, 0.15, 0.15, 0.15, 0.2, 0.15, 0.2,
                    0.25, 0.3, 0.3, 0.3, 0.25, 0.5]
AMV_MPI_CCA_LONG = [-0.05, -0.1, 0.0, 0.05, 0.05, 0.0, -0.05, -0.15, -0.1, -0.05,
                    -0.15, -0.05, 0.0, 0.0, -0.05, 0.0, 0.0, 0.0, -0.05, 0.0,
                    0.05, 0.05, 0.1, 0.0, 0.05, 0.1, 0.0, 0.05, 0.1, 0.0,
                    0.05, 0.1, 0.0, 0.0, -0.1, -0.28, -0.2, 0.0, 0.05, -0.05,
                    -0.05, -0.05, 0.0, 0.0, -0.08, -0.05, -0.05, 0.0, 0.05, 0.0,
                    -0.05, -0.1, -0.05, 0.0, -0.12, -0.18, -0.05, -0.05, -0.05, -0.05,
                    0.0, -0.1, -0.05, 0.05, 0.0, -0.05, 0.0, -0.05, -0.12, -0.05,
                    -0.05, 0.0, 0.0, 0.0, -0.05, 0.05, 0.1, 0.0, -0.18, -0.22,
                    -0.1, -0.05, -0.05, 0.0, 0.0, 0.05, 0.05, 0.0, 0.05, 0.0,
                    0.0, 0.05, 0.0, 0.0, 0.0, 0.0, 0.0, 0.05, 0.05, 0.05,
                    0.1, 0.15, 0.1, 0.15, 0.1, 0.1, 0.1, 0.15, 0.1, 0.15,
                    0.2, 0.25, 0.3, 0.35, 0.25, 0.6]
AMV_MPI_LSTM_LONG = [-0.05, -0.05, 0.0, 0.05, 0.05, 0.0, -0.05, -0.12, -0.05, 0.0,
                     -0.05, 0.0, 0.0, 0.0, -0.05, 0.0, 0.0, 0.0, 0.0, 0.0,
                     0.05, 0.05, 0.05, 0.0, 0.05, 0.05, 0.0, 0.0, 0.05, 0.0,
                     0.05, 0.05, 0.0, 0.0, -0.1, -0.3, -0.18, 0.0, 0.05, 0.0,
                     -0.05, 0.0, 0.0, -0.05, -0.12, -0.05, 0.0, 0.0, 0.05, 0.0,
                     0.0, -0.05, 0.0, 0.0, -0.12, -0.2, -0.05, 0.0, 0.0, 0.0,
                     0.0, -0.05, -0.05, 0.05, 0.0, 0.0, 0.0, -0.05, -0.1, 0.0,
                     0.0, 0.0, 0.0, 0.0, 0.0, 0.05, 0.1, 0.0, -0.2, -0.28,
                     -0.1, -0.05, 0.0, 0.0, 0.0, 0.05, 0.0, 0.05, 0.05, 0.0,
                     0.0, 0.05, 0.0, 0.05, 0.0, 0.05, 0.0, 0.0, 0.05, 0.05,
                     0.05, 0.1, 0.05, 0.15, 0.05, 0.1, 0.05, 0.1, 0.05, 0.1,
                     0.1, 0.15, 0.2, 0.2, 0.15, 0.2]

AMV_CAM5_MODEL_LONG = [-0.05, 0.1, -0.1, 0.05, -0.2, -0.45, -0.1, 0.0, -0.05, 0.0,
                       0.05, -0.1, 0.0, -0.1, 0.05, 0.15, 0.1, 0.2, 0.2, 0.15,
                       0.2, 0.2, 0.15, 0.1, 0.15, 0.1, 0.05, 0.1, 0.0, 0.1,
                       0.2, 0.15, 0.05, 0.0, -0.1, -0.35, -0.05, 0.0, 0.05, 0.0,
                       0.0, 0.0, -0.05, -0.05, -0.15, -0.05, 0.0, 0.05, 0.0, 0.05,
                       0.0, 0.05, 0.0, -0.05, -0.05, -0.25, 0.05, -0.3, 0.05, -0.1,
                       0.05, -0.15, 0.05, -0.1, 0.1, 0.1, -0.05, 0.0, -0.35, 0.05,
                       0.1, 0.2, 0.05, 0.15, 0.05, 0.0, 0.1, -0.05, -0.1, -0.25,
                       -0.1, 0.1, -0.1, 0.1, -0.05, 0.05, 0.0, 0.05, 0.1, -0.05,
                       0.0, -0.1, -0.35, -0.2, -0.05, -0.1, -0.15, 0.05, 0.05, 0.2,
                       0.15, 0.15, 0.1, 0.15, 0.1, 0.15, 0.1, 0.0, -0.1, 0.05,
                       0.0, 0.1, 0.05, 0.15, 0.2, 0.25]
AMV_CAM5_PCR_LONG = [0.0, 0.0, -0.05, 0.05, -0.05, -0.15, -0.05, 0.0, 0.0, 0.0,
                     0.0, -0.05, 0.0, -0.05, 0.0, 0.05, 0.05, 0.05, 0.1, 0.05,
                     0.1, 0.1, 0.1, 0.05, 0.05, 0.05, 0.0, 0.05, 0.0, 0.05,
                     0.1, 0.05, 0.0, 0.0, -0.05, -0.1, 0.0, 0.0, 0.0, 0.0,
                     0.0, 0.0, 0.0, -0.05, -0.05, 0.0, 0.0, 0.0, 0.0, 0.0,
                     0.0, 0.0, 0.0, 0.0, 0.0, -0.1, 0.0, -0.1, 0.0, -0.05,
                     0.0, -0.05, 0.0, -0.05, 0.05, 0.05, 0.0, 0.0, -0.15, 0.0,
                     0.05, 0.1, 0.0, 0.05, 0.0, 0.0, 0.05, 0.0, -0.05, -0.1,
                     -0.05, 0.05, -0.05, 0.05, 0.0, 0.0, 0.0, 0.0, 0.05, 0.0,
                     0.0, -0.05, -0.1, -0.05, 0.0, 0.0, -0.05, 0.05, 0.05, 0.1,
                     0.1, 0.1, 0.1, 0.1, 0.1, 0.15, 0.1, 0.0, -0.05, 0.05,
                     0.0, 0.05, 0.05, 0.1, 0.1, 0.05]
AMV_CAM5_CCA_LONG = [0.0, -0.05, -0.05, 0.05, -0.05, -0.12, -0.05, 0.0, -0.05, 0.0,
                     0.0, -0.05, 0.0, -0.05, -0.05, 0.05, 0.0, 0.05, 0.05, 0.05,
                     0.1, 0.05, 0.1, 0.05, 0.0, 0.05, 0.0, 0.05, -0.05, 0.05,
                     0.05, 0.05, 0.0, -0.05, -0.05, -0.1, -0.05, 0.0, -0.05, 0.0,
                     -0.05, 0.0, -0.05, -0.05, -0.05, 0.0, -0.05, 0.0, 0.0, 0.0,
                     0.0, -0.05, 0.0, -0.05, 0.0, -0.1, -0.05, -0.1, 0.0, -0.05,
                     0.0, -0.1, 0.0, -0.05, 0.0, 0.05, -0.05, -0.05, -0.12, 0.0,
                     0.05, 0.05, 0.0, 0.05, 0.0, -0.05, 0.05, -0.05, -0.1, -0.1,
                     -0.05, 0.0, -0.1, 0.0, -0.05, 0.0, -0.05, 0.0, 0.0, -0.05,
                     -0.05, -0.1, -0.1, -0.05, -0.05, 0.0, -0.1, 0.0, 0.05, 0.05,
                     0.1, 0.1, 0.05, 0.1, 0.1, 0.1, 0.1, 0.0, -0.05, 0.0,
                     0.0, 0.05, 0.05, 0.1, 0.05, -0.05]
AMV_CAM5_LSTM_LONG = [0.0, 0.0, -0.05, 0.05, -0.05, -0.12, -0.05, 0.0, 0.0, 0.0,
                      0.0, -0.05, 0.0, 0.0, 0.0, 0.05, 0.05, 0.05, 0.05, 0.05,
                      0.05, 0.05, 0.1, 0.05, 0.05, 0.05, 0.0, 0.05, 0.0, 0.05,
                      0.05, 0.05, 0.0, 0.0, -0.05, -0.1, 0.0, 0.0, 0.0, 0.0,
                      0.0, 0.0, 0.0, -0.05, -0.05, 0.0, 0.0, 0.0, 0.0, 0.0,
                      0.0, 0.0, 0.0, 0.0, 0.0, -0.05, 0.0, -0.1, 0.0, -0.05,
                      0.0, -0.05, 0.05, -0.05, 0.0, 0.05, 0.0, 0.0, -0.12, 0.0,
                      0.05, 0.05, 0.0, 0.05, 0.05, 0.0, 0.05, 0.0, -0.05, -0.1,
                      -0.05, 0.05, -0.05, 0.05, 0.0, 0.0, 0.0, 0.0, 0.05, 0.0,
                      0.0, -0.05, -0.05, -0.05, 0.0, 0.0, -0.05, 0.05, 0.05, 0.05,
                      0.05, 0.1, 0.05, 0.1, 0.1, 0.1, 0.1, 0.0, 0.0, 0.0,
                      0.0, 0.05, 0.05, 0.05, 0.05, 0.05]

AMV_CCSM_MODEL_LONG = [-0.1, -0.05, 0.05, -0.05, -0.3, -0.85, -0.5, -0.2, -0.1, -0.05,
                       -0.3, -0.05, 0.0, -0.05, -0.1, 0.0, 0.05, 0.1, 0.0, 0.0,
                       -0.1, 0.05, 0.1, 0.0, 0.05, 0.0, -0.05, 0.0, 0.0, -0.1,
                       -0.05, 0.0, -0.15, -0.1, -0.2, -0.5, -0.2, -0.05, 0.0, -0.05,
                       -0.15, -0.05, -0.1, -0.3, -0.6, -0.25, -0.1, 0.0, -0.05, -0.1,
                       -0.1, -0.15, -0.05, -0.1, -0.1, -0.15, -0.2, -0.15, -0.2, -0.3,
                       -0.2, -0.1, -0.05, -0.1, 0.0, 0.1, 0.05, -0.2, -0.95, -0.35,
                       -0.1, -0.05, -0.2, -0.1, -0.1, -0.05, -0.15, -0.4, -0.85, -0.5,
                       -0.1, -0.05, -0.1, -0.4, -0.2, 0.05, 0.1, 0.15, 0.2, 0.15,
                       0.2, 0.15, 0.1, -0.05, 0.05, -0.05, 0.15, 0.15, 0.3, 0.35,
                       0.35, 0.4, 0.35, 0.4, 0.35, 0.45, 0.4, 0.35, 0.1, 0.45,
                       0.5, 0.6, 0.65, 0.75, 0.95, 0.9]
AMV_CCSM_PCR_LONG = [-0.05, 0.0, 0.05, 0.0, -0.15, -0.45, -0.25, -0.05, -0.05, 0.0,
                     -0.15, 0.0, 0.0, -0.05, -0.05, 0.0, 0.05, 0.05, 0.0, 0.0,
                     -0.05, 0.05, 0.1, 0.0, 0.05, 0.0, 0.0, 0.0, 0.0, -0.05,
                     0.0, 0.0, -0.05, -0.05, -0.1, -0.42, -0.1, 0.0, 0.05, 0.0,
                     -0.05, 0.0, -0.05, -0.2, -0.4, -0.1, 0.0, 0.05, 0.0, -0.05,
                     -0.05, -0.05, 0.0, -0.05, -0.05, -0.05, -0.1, -0.05, -0.1, -0.2,
                     -0.1, -0.05, 0.0, -0.05, 0.05, 0.15, 0.05, -0.1, -0.55, -0.2,
                     -0.05, 0.0, -0.1, -0.05, -0.05, 0.0, -0.05, -0.25, -0.5, -0.25,
                     -0.05, 0.0, -0.05, -0.25, -0.1, 0.05, 0.1, 0.1, 0.15, 0.1,
                     0.15, 0.1, 0.05, 0.0, 0.05, 0.0, 0.1, 0.15, 0.2, 0.25,
                     0.25, 0.3, 0.25, 0.3, 0.3, 0.3, 0.3, 0.3, 0.15, 0.3,
                     0.3, 0.35, 0.35, 0.4, 0.4, 0.35]
AMV_CCSM_CCA_LONG = [-0.05, 0.0, 0.05, 0.0, -0.15, -0.42, -0.2, -0.05, -0.05, 0.0,
                     -0.12, 0.0, 0.0, -0.05, -0.05, 0.0, 0.05, 0.05, 0.0, 0.0,
                     -0.05, 0.05, 0.1, 0.0, 0.05, 0.0, 0.0, 0.0, 0.0, -0.05,
                     0.0, 0.0, -0.05, -0.05, -0.1, -0.4, -0.1, 0.0, 0.05, 0.0,
                     -0.05, 0.0, -0.05, -0.18, -0.38, -0.1, 0.0, 0.05, 0.0, -0.05,
                     -0.05, -0.05, 0.0, -0.05, -0.05, -0.05, -0.1, -0.05, -0.1, -0.2,
                     -0.1, -0.05, 0.0, -0.05, 0.05, 0.15, 0.05, -0.1, -0.52, -0.2,
                     -0.05, 0.0, -0.1, -0.05, -0.05, 0.0, -0.05, -0.22, -0.48, -0.25,
                     -0.05, 0.0, -0.05, -0.2, -0.1, 0.05, 0.1, 0.15, 0.15, 0.1,
                     0.15, 0.1, 0.05, 0.0, 0.05, 0.0, 0.15, 0.2, 0.25, 0.3,
                     0.3, 0.3, 0.3, 0.35, 0.3, 0.35, 0.3, 0.35, 0.2, 0.35,
                     0.35, 0.4, 0.4, 0.4, 0.45, 0.4]
AMV_CCSM_LSTM_LONG = [-0.05, 0.0, 0.05, 0.0, -0.2, -0.5, -0.25, -0.05, 0.0, 0.0,
                      -0.15, 0.0, 0.0, 0.0, -0.05, 0.0, 0.05, 0.05, 0.0, 0.0,
                      -0.05, 0.05, 0.1, 0.0, 0.05, 0.0, 0.0, 0.0, 0.0, -0.05,
                      0.0, 0.0, -0.05, 0.0, -0.1, -0.5, -0.1, 0.0, 0.05, 0.0,
                      0.0, 0.05, 0.0, -0.15, -0.38, -0.1, 0.0, 0.05, 0.0, 0.0,
                      -0.05, -0.05, 0.0, -0.05, 0.0, -0.05, -0.05, -0.05, -0.05, -0.15,
                      -0.05, 0.0, 0.0, 0.0, 0.05, 0.15, 0.05, -0.1, -0.7, -0.2,
                      0.0, 0.0, -0.05, 0.0, 0.0, 0.0, -0.05, -0.25, -0.55, -0.25,
                      -0.05, 0.0, 0.0, -0.2, -0.05, 0.05, 0.1, 0.1, 0.1, 0.1,
                      0.1, 0.1, 0.05, 0.0, 0.05, 0.0, 0.1, 0.1, 0.15, 0.15,
                      0.15, 0.15, 0.15, 0.2, 0.2, 0.2, 0.2, 0.2, 0.1, 0.2,
                      0.2, 0.25, 0.25, 0.25, 0.2, 0.15]

MODELS = ["MPI", "CAM5", "CCSM"]
SMALL_YLIM = {("NH", "MPI"): (-1.0, 1.42), ("NH", "CAM5"): (-0.51, 0.35), ("NH", "CCSM"): (-1.24, 1.29),
              ("AMV", "MPI"): (-1.04, 1.18), ("AMV", "CAM5"): (-0.56, 0.30), ("AMV", "CCSM"): (-1.12, 1.10)}

W, H = 824, 630
fig = plt.figure(figsize=(W / 100, H / 100), dpi=100)

def rect(left, top, width, height):
    return [left / W, 1 - (top + height) / H, width / W, height / H]

SPINE = "#8a8a8a"
RED = dict(color="red", alpha=0.65, lw=1.1)
PCR = dict(color="black", alpha=0.6, lw=1.1)
CCA = dict(color="blue", alpha=0.6, lw=1.1)
LSTM = dict(color="green", alpha=0.65, lw=0.9, ls="--")

def style_ticks(ax, size=4.3):
    ax.tick_params(labelsize=size, length=2, width=0.5, pad=1.2, colors="#333333")
    for s in ax.spines.values():
        s.set_color(SPINE)
        s.set_linewidth(0.8)

def draw_windows(col_left, step, top, height, wins, model, pcr, cca, lstm, ylim):
    for i in range(5):
        ax = fig.add_axes(rect(col_left + i * step, top, step - 10.5, height))
        x = np.arange(wins[i], wins[i] + 21, 2)
        ax.plot(x, model[i], **RED)
        ax.plot(x, pcr[i], **PCR)
        ax.plot(x, cca[i], **CCA)
        ax.plot(x, lstm[i], **LSTM)
        ax.set_xlim(wins[i], wins[i] + 20)
        ax.set_ylim(*ylim)
        ax.xaxis.set_major_locator(MultipleLocator(10))
        style_ticks(ax)
        if i == 0:
            ax.set_ylabel("Temperature anomalies in (K)", fontsize=4, labelpad=1.5)
        else:
            ax.set_yticklabels([])

def draw_long(left, top, width, height, name, model, pcr, cca, lstm):
    ax = fig.add_axes(rect(left, top, width, height))
    ax.hlines(0, YEARS[0], YEARS[-1], color="#bbbbbb", lw=0.8, ls="--", zorder=0)
    ax.plot(YEARS, model, label=name, **RED)
    ax.plot(YEARS, pcr, label="PCR", **PCR)
    ax.plot(YEARS, cca, label="CCA", **CCA)
    ax.plot(YEARS, lstm, label="Bi-lstm", **LSTM)
    ax.set_xlim(1396.25, 2028.75)
    ax.set_ylim(-2, 2)
    ax.xaxis.set_major_locator(MultipleLocator(100))
    ax.yaxis.set_major_locator(MultipleLocator(1))
    ax.spines["top"].set_visible(False)
    ax.spines["right"].set_visible(False)
    style_ticks(ax)
    ax.set_ylabel("Temperature anomalies in (K)", fontsize=4, labelpad=2)
    ax.set_xlabel("Year", fontsize=4.5, labelpad=1)
    ax.legend(loc="upper left", ncol=4, fontsize=4.2, frameon=True, handlelength=2.3,
              handletextpad=0.6, columnspacing=1.6, borderpad=0.45, borderaxespad=0.3,
              edgecolor="#dddddd", fancybox=True)

small_tops = [61, 262, 463]
small_h = [71, 72, 71]
long_tops = [146, 346, 546]
long_h = [71, 73, 73]

nh_sets = [(NH_MPI_WIN, NH_MPI_MODEL, NH_MPI_PCR, NH_MPI_CCA, NH_MPI_LSTM),
           (NH_CAM5_WIN, NH_CAM5_MODEL, NH_CAM5_PCR, NH_CAM5_CCA, NH_CAM5_LSTM),
           (NH_CCSM_WIN, NH_CCSM_MODEL, NH_CCSM_PCR, NH_CCSM_CCA, NH_CCSM_LSTM)]
amv_sets = [(AMV_MPI_WIN, AMV_MPI_MODEL, AMV_MPI_PCR, AMV_MPI_CCA, AMV_MPI_LSTM),
            (AMV_CAM5_WIN, AMV_CAM5_MODEL, AMV_CAM5_PCR, AMV_CAM5_CCA, AMV_CAM5_LSTM),
            (AMV_CCSM_WIN, AMV_CCSM_MODEL, AMV_CCSM_PCR, AMV_CCSM_CCA, AMV_CCSM_LSTM)]
nh_long = [(NH_MPI_MODEL_LONG, NH_MPI_PCR_LONG, NH_MPI_CCA_LONG, NH_MPI_LSTM_LONG),
           (NH_CAM5_MODEL_LONG, NH_CAM5_PCR_LONG, NH_CAM5_CCA_LONG, NH_CAM5_LSTM_LONG),
           (NH_CCSM_MODEL_LONG, NH_CCSM_PCR_LONG, NH_CCSM_CCA_LONG, NH_CCSM_LSTM_LONG)]
amv_long = [(AMV_MPI_MODEL_LONG, AMV_MPI_PCR_LONG, AMV_MPI_CCA_LONG, AMV_MPI_LSTM_LONG),
            (AMV_CAM5_MODEL_LONG, AMV_CAM5_PCR_LONG, AMV_CAM5_CCA_LONG, AMV_CAM5_LSTM_LONG),
            (AMV_CCSM_MODEL_LONG, AMV_CCSM_PCR_LONG, AMV_CCSM_CCA_LONG, AMV_CCSM_LSTM_LONG)]

for r, name in enumerate(MODELS):
    draw_windows(113, 66.5, small_tops[r], small_h[r], *nh_sets[r], SMALL_YLIM[("NH", name)])
    draw_windows(503, 67.3, small_tops[r], small_h[r], *amv_sets[r], SMALL_YLIM[("AMV", name)])
    draw_long(113, long_tops[r], 322, long_h[r], name, *nh_long[r])
    draw_long(503, long_tops[r], 325, long_h[r], name, *amv_long[r])

serif = "Liberation Serif"
fig.text(265 / W, 1 - 22 / H, "NH index", fontsize=13.5, family=serif, ha="center", va="center")
fig.text(661 / W, 1 - 22 / H, "AMV index", fontsize=13.5, family=serif, ha="center", va="center")
fig.text(31 / W, 1 - 133 / H, "MPI", fontsize=14, family=serif, ha="center", va="center")
fig.text(32 / W, 1 - 326 / H, "CAM5", fontsize=14, family=serif, ha="center", va="center")
fig.text(32 / W, 1 - 527 / H, "CCSM", fontsize=14, family=serif, ha="center", va="center")

fig.savefig("out.png", dpi=100)
